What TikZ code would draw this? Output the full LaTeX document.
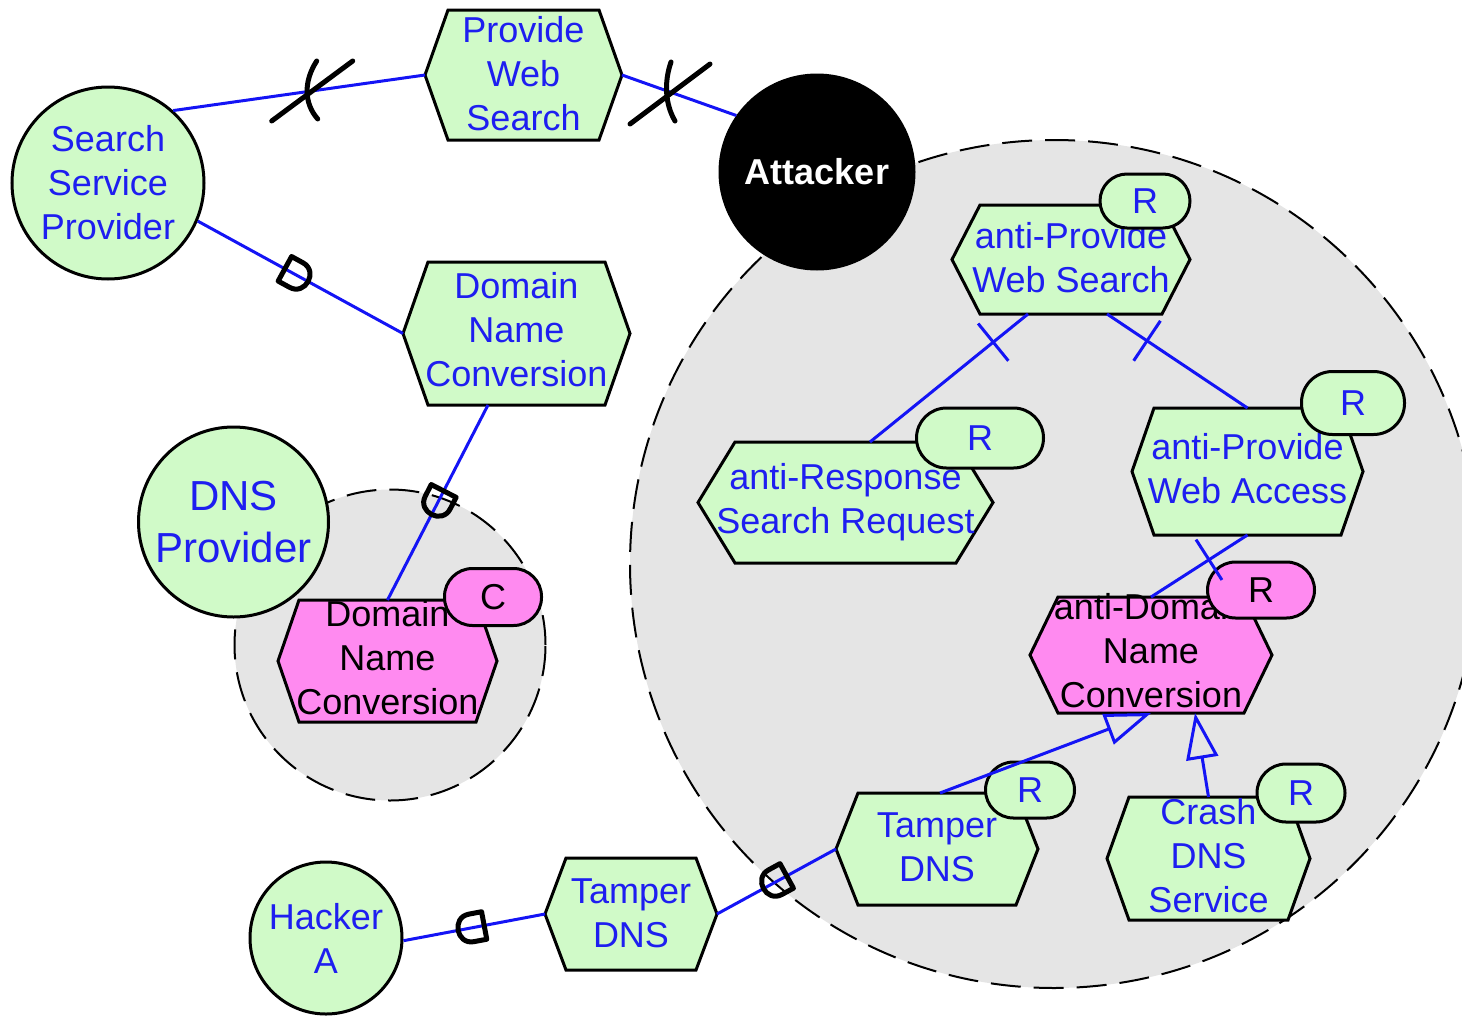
\documentclass[tikz,border=0pt]{standalone}
\usepackage{fontspec}
\setmainfont{Liberation Sans}
\usetikzlibrary{arrows.meta,decorations.markings}

\definecolor{ngreen}{RGB}{208,250,200}
\definecolor{npink}{RGB}{255,138,240}
\definecolor{tblue}{RGB}{30,30,240}
\definecolor{lblue}{RGB}{20,20,245}
\definecolor{bgrey}{RGB}{229,229,229}

\tikzset{
  hexline/.style={draw=black,line width=3pt,line join=miter},
  hexfillG/.style={fill=ngreen},
  hexfillP/.style={fill=npink},
  hexbody/.style={inner sep=0pt,outer sep=0pt},
  hextext/.style={inner sep=0pt,outer sep=0pt,align=center,font=\fontsize{36}{44}\selectfont},
  hextextG/.style={text=tblue},
  hextextP/.style={text=black},
  actor/.style={circle,draw=black,line width=3pt,fill=ngreen,text=tblue,inner sep=0pt,
    align=center,font=\fontsize{36}{44}\selectfont},
  badge/.style={draw=black,line width=3pt,inner sep=0pt,font=\fontsize{36}{44}\selectfont},
  badgeG/.style={badge,fill=ngreen,text=tblue},
  badgeP/.style={badge,fill=npink,text=black},
  boundary/.style={circle,draw=black,dash pattern=on 30pt off 13pt,line width=2pt,
    fill=bgrey,inner sep=0pt},
  conn/.style={draw=lblue,line width=3pt},
  xstroke/.style={draw=black,line width=5pt,line cap=round},
  dfwd/.style={postaction={decorate},decoration={markings,mark=at position #1 with
    {\draw[black,line width=5pt,line join=round]
      (-13,-14) -- (0,-14) .. controls (18,-14) and (18,14) .. (0,14) -- (-13,14) -- cycle;}}},
  dback/.style={postaction={decorate},decoration={markings,mark=at position #1 with
    {\draw[black,line width=5pt,line join=round]
      (13,-14) -- (0,-14) .. controls (-18,-14) and (-18,14) .. (0,14) -- (13,14) -- cycle;}}},
  crossbar/.style={postaction={decorate},decoration={markings,mark=at position #1 with
    {\draw[lblue,line width=3pt] (0,-24) -- (0,24);}}},
  isa/.style={conn,-{Triangle[open,length=46pt,width=32pt]}},
}

% #1 colour set (G/P), #2 name, #3 centre, #4 half width, #5 half height,
% #6 corner inset, #7 vertical text offset, #8 text
\newcommand\hexagonnode[8]{%
  \draw[hexline,hexfill#1,shift={#3}] (-#4,0) -- (-#4+#6,-#5) -- (#4-#6,-#5) -- (#4,0)
    -- (#4-#6,#5) -- (-#4+#6,#5) -- cycle;
  \node[hexbody,minimum width=2*#4,minimum height=2*#5] (#2) at #3 {};
  \node[hextext,hextext#1,yshift=#7pt] (#2txt) at #3
    {\begin{tabular}{@{}c@{}}#8\end{tabular}};
}

\begin{document}
\begin{tikzpicture}[x=1pt,y=-1pt]
\useasboundingbox (0,0) rectangle (1462,1015);

% actor boundaries
\node[boundary,minimum size=848pt] (attb) at (1054,564) {};
\node[boundary,minimum size=311pt] (dnsb) at (390,645) {};

% actors
\node[actor,minimum size=192pt] (ssp) at (108,183) {Search\\Service\\Provider};
\node[actor,minimum size=190pt,font=\fontsize{42}{52}\selectfont] (dnsp) at (233.5,522) {DNS\\Provider};
\node[actor,minimum size=152pt] (hack) at (326,938) {Hacker\\A};
\node[actor,fill=black,text=white,font=\bfseries\fontsize{36}{44}\selectfont,minimum size=194pt]
  (att) at (817,172) {Attacker};

% intentional elements
\hexagonnode{G}{pws}{(523.5,75)}{98.5}{65}{23}{-3}{Provide\\Web\\Search}
\hexagonnode{G}{dnc}{(516.5,333.5)}{113.5}{71.5}{25}{0}{Domain\\Name\\Conversion}
\hexagonnode{P}{pdnc}{(387.5,661)}{109.5}{61}{21}{-1}{Domain\\Name\\Conversion}
\hexagonnode{G}{apws}{(1071,259.5)}{119}{54.5}{28}{-2.5}{anti-Provide\\Web Search}
\hexagonnode{G}{aresp}{(845.5,502.5)}{147.5}{60.5}{37}{0}{anti-Response\\Search Request}
\hexagonnode{G}{apwa}{(1247.5,471.5)}{115.5}{63.5}{22}{-1}{anti-Provide\\Web Access}
\hexagonnode{P}{adnc}{(1151,655)}{121}{58}{28}{0}{anti-Domain\\Name\\Conversion}
\hexagonnode{G}{itamp}{(937,849)}{101}{56}{22}{-2}{Tamper\\DNS}
\hexagonnode{G}{crash}{(1208.5,858.5)}{101.5}{61.5}{22}{-1}{Crash\\DNS\\Service}
\hexagonnode{G}{otamp}{(631,914)}{86}{56}{21}{-2.5}{Tamper\\DNS}

% tags
\node[badgeG,minimum width=90pt,minimum height=54pt,rounded corners=27pt] (rapws) at (1145,201) {R};
\node[badgeG,minimum width=127pt,minimum height=60pt,rounded corners=30pt] (raresp) at (980,438) {R};
\node[badgeG,minimum width=103pt,minimum height=63pt,rounded corners=31pt] (rapwa) at (1353,403) {R};
\node[badgeP,minimum width=107pt,minimum height=56pt,rounded corners=28pt] (radnc) at (1261,590) {R};
\node[badgeG,minimum width=89pt,minimum height=56pt,rounded corners=28pt] (ritamp) at (1030,790) {R};
\node[badgeG,minimum width=88pt,minimum height=58pt,rounded corners=29pt] (rcrash) at (1301,793) {R};
\node[badgeP,minimum width=97pt,minimum height=57pt,rounded corners=28pt] (cpdnc) at (493,597) {C};

% broken links
\draw[conn] (ssp.48) -- coordinate[pos=0.55] (xa) (pws.west);
\draw[xstroke] ([shift={(-40,30)}]xa) -- ([shift={(41,-30)}]xa);
\draw[xstroke] ([shift={(5,-30)}]xa) .. controls ([shift={(-8,-10)}]xa) and ([shift={(-8,12)}]xa) .. ([shift={(6,28)}]xa);
\draw[conn] (pws.east) -- coordinate[pos=0.42] (xb) (att.145);
\draw[xstroke] ([shift={(-40,32)}]xb) -- ([shift={(40,-28)}]xb);
\draw[xstroke] ([shift={(1,-30)}]xb) .. controls ([shift={(-6,-10)}]xb) and ([shift={(-5,12)}]xb) .. ([shift={(5,29)}]xb);

% dependencies
\draw[conn,dfwd=0.48] (ssp.-23) -- (dnc.west);
\draw[conn,dfwd=0.5] ([xshift=-28.5pt]dnc.south) -- (pdnc.north);
\draw[conn,dback=0.48] (hack.-2) -- (otamp.west);
\draw[conn,dback=0.49] (otamp.east) -- (itamp.west);

% decompositions
\draw[conn,crossbar=0.22] ([xshift=-43pt]apws.south) -- ([xshift=24.5pt]aresp.north);
\draw[conn,crossbar=0.285] ([xshift=36pt]apws.south) -- (apwa.north);
\draw[conn,crossbar=0.40] (apwa.south) -- (adnc.north);

% specialisations
\draw[isa] ([xshift=3pt]itamp.north) -- (adnc.south);
\draw[isa] (crash.north) -- ([xshift=44pt]adnc.south);
\end{tikzpicture}
\end{document}
